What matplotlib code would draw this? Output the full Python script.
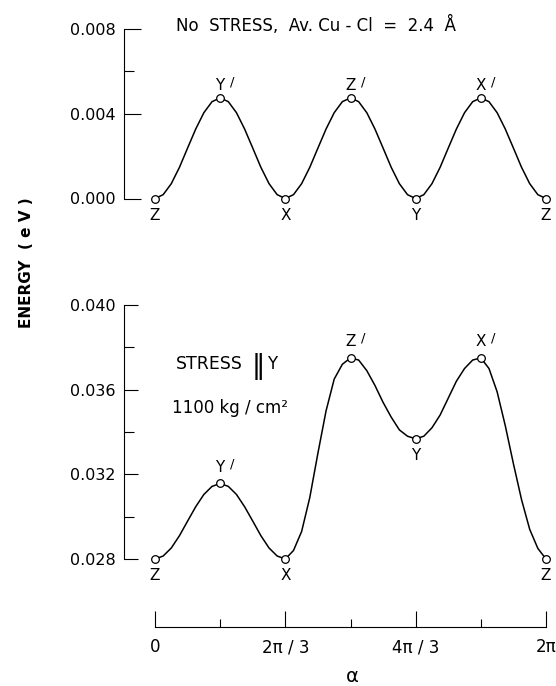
import matplotlib
matplotlib.use('Agg')
import matplotlib.pyplot as plt
import numpy as np

alpha = np.arange(49) * np.pi / 24

e_nostress = [0.0000, 0.00018, 0.00070, 0.00147, 0.00238, 0.00328, 0.00405, 0.00457,
              0.00475, 0.00457, 0.00405, 0.00328, 0.00238, 0.00147, 0.00070, 0.00018,
              0.0000, 0.00018, 0.00070, 0.00147, 0.00238, 0.00328, 0.00405, 0.00457,
              0.00475, 0.00457, 0.00405, 0.00328, 0.00238, 0.00147, 0.00070, 0.00018,
              0.0000, 0.00018, 0.00070, 0.00147, 0.00238, 0.00328, 0.00405, 0.00457,
              0.00475, 0.00457, 0.00405, 0.00328, 0.00238, 0.00147, 0.00070, 0.00018,
              0.0000]

e_stress = [0.0280, 0.02814, 0.02852, 0.0291, 0.02979, 0.03047, 0.03105, 0.03143,
            0.03157, 0.03143, 0.03105, 0.03047, 0.02979, 0.0291, 0.02852, 0.02814,
            0.0280, 0.0284, 0.0293, 0.0309, 0.0330, 0.0350, 0.0365, 0.0372,
            0.0375, 0.0374, 0.0369, 0.0362, 0.0354, 0.0347, 0.0341, 0.0338,
            0.03368, 0.0338, 0.0342, 0.0348, 0.0356, 0.0364, 0.0370, 0.0374,
            0.0375, 0.0370, 0.0359, 0.0343, 0.0325, 0.0308, 0.0294, 0.0285,
            0.0280]

point_idx = [0, 8, 16, 24, 32, 40, 48]
point_names = ['Z', 'Y', 'X', 'Z', 'Y', 'X', 'Z']
point_primed = [False, True, False, True, False, True, False]

top_major = [0.000, 0.004, 0.008]
top_minor = [0.006]
bot_major = [0.028, 0.032, 0.036, 0.040]
bot_minor = [0.030, 0.034, 0.038]

xtick_pos = [0, 2 * np.pi / 3, 4 * np.pi / 3, 2 * np.pi]
xtick_labels = ['0', '2π / 3', '4π / 3', '2π']
xminor_pos = [np.pi / 3, np.pi, 5 * np.pi / 3]

W, H = 556, 686
X0_PX, X1_PX = 155, 546      # pixel columns of alpha = 0 and 2 pi
AX_L, AX_R = 124, 552


def fx(px):
    return px / W


def fy(py):
    return 1 - py / H


def a_at(px):
    return (px - X0_PX) / (X1_PX - X0_PX) * 2 * np.pi


plt.rcParams['font.family'] = ['DejaVu Sans']
fig = plt.figure(figsize=(W / 100, H / 100), dpi=100)


def panel(y_bot, y_top, major, minor, maj_len, min_len):
    ax = fig.add_axes([fx(AX_L), fy(y_bot), fx(AX_R - AX_L), (y_bot - y_top) / H])
    ax.set_xlim(a_at(AX_L), a_at(AX_R))
    ax.set_ylim(major[0], major[-1])
    for s in ['top', 'right', 'bottom']:
        ax.spines[s].set_visible(False)
    ax.spines['left'].set_bounds(major[0], major[-1])
    ax.spines['left'].set_linewidth(0.8)
    ax.xaxis.set_visible(False)
    ax.set_yticks(major)
    ax.set_yticklabels([f'{v:.3f}' for v in major])
    ax.set_yticks(minor, minor=True)
    ax.tick_params(axis='y', which='major', direction='in', length=maj_len,
                   width=0.8, pad=6.0, labelsize=11.5)
    ax.tick_params(axis='y', which='minor', direction='in', length=min_len, width=0.8)
    ax.patch.set_visible(False)
    return ax


def draw_curve(ax, energy, up, down):
    e = np.array(energy)
    ax.plot(alpha, e, color='black', lw=1.1, clip_on=False, solid_joinstyle='round')
    ax.plot(alpha[point_idx], e[point_idx], 'o', mfc='white', mec='black',
            ms=5.5, mew=0.9, clip_on=False, zorder=3)
    for i, name, primed in zip(point_idx, point_names, point_primed):
        dy = up if primed else -down
        ax.annotate(name, (alpha[i], e[i]), xytext=(0, dy), textcoords='offset points',
                    ha='center', va='center', fontsize=11)
        if primed:
            # the prime sits apart, up and to the right of the letter
            ax.annotate('/', (alpha[i], e[i]), xytext=(9, dy + 2.5),
                        textcoords='offset points', ha='center', va='center',
                        fontsize=9.5)


ax1 = panel(198.5, 29, top_major, top_minor, 12.5, 7.5)
draw_curve(ax1, e_nostress, 9, 12)

ax2 = panel(559, 305, bot_major, bot_minor, 10, 7)
draw_curve(ax2, e_stress, 11.5, 12)

# separate alpha axis
axx = fig.add_axes([fx(AX_L), fy(627), fx(AX_R - AX_L), 20 / H])
axx.set_xlim(a_at(AX_L), a_at(AX_R))
axx.set_ylim(0, 1)
for s in ['top', 'right', 'left']:
    axx.spines[s].set_visible(False)
axx.spines['bottom'].set_bounds(0, 2 * np.pi)
axx.spines['bottom'].set_linewidth(0.8)
axx.yaxis.set_visible(False)
axx.set_xticks(xtick_pos)
axx.set_xticklabels(xtick_labels)
axx.set_xticks(xminor_pos, minor=True)
axx.tick_params(axis='x', which='major', direction='in', length=11.5, width=0.8,
                pad=8.0, labelsize=12)
axx.tick_params(axis='x', which='minor', direction='in', length=5.8, width=0.8)
axx.patch.set_visible(False)

fig.text(fx(352), fy(677), 'α', ha='center', va='center', fontsize=14)
fig.text(fx(26.5), fy(262.5), 'ENERGY  ( e V )', rotation=90, ha='center',
         va='center', fontsize=11, fontweight='bold')

fig.text(fx(176), fy(25), 'No  STRESS,  Av. Cu - Cl  =  2.4  Å', ha='left',
         va='center', fontsize=12)
fig.text(fx(176), fy(364), 'STRESS', ha='left', va='center', fontsize=12.5)
fig.text(fx(258.5), fy(366), '\u2016', ha='center', va='center', fontsize=19)
fig.text(fx(267), fy(364), 'Y', ha='left', va='center', fontsize=12)
fig.text(fx(172), fy(408), '1100 kg / cm²', ha='left', va='center', fontsize=12)

fig.savefig('out.png', dpi=100)
